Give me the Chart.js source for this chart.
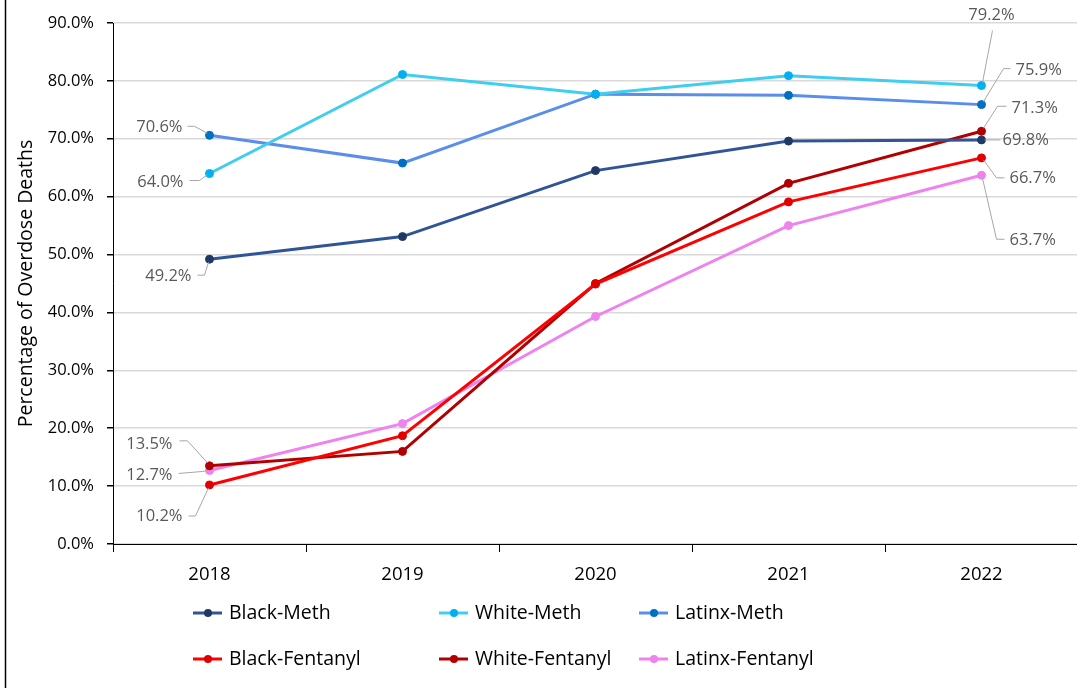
<!DOCTYPE html>
<html>
<head>
<meta charset="utf-8">
<script src="https://cdn.jsdelivr.net/npm/chart.js@4.4.1/dist/chart.umd.min.js"></script>
<style>
  html, body { margin: 0; padding: 0; background: #fff; overflow: hidden; }
  #wrap { position: relative; width: 1077px; height: 688px; overflow: hidden; }
</style>
</head>
<body>
<div id="wrap"><canvas id="chart" width="1083" height="688"></canvas></div>
<script>
// data
const years = ["2018", "2019", "2020", "2021", "2022"];
const blackMeth = [49.2, 53.1, 64.5, 69.6, 69.8];
const whiteMeth = [64.0, 81.1, 77.7, 80.9, 79.2];
const latinxMeth = [70.6, 65.8, 77.7, 77.5, 75.9];
const blackFentanyl = [10.2, 18.7, 44.9, 59.1, 66.7];
const whiteFentanyl = [13.5, 16.0, 45.0, 62.3, 71.3];
const latinxFentanyl = [12.7, 20.8, 39.3, 55.0, 63.7];
const yTicks = [0, 10, 20, 30, 40, 50, 60, 70, 80, 90];

const FONT = "'Open Sans', sans-serif";

// colours: line, marker
const series = [
  { label: "Black-Meth", data: blackMeth, line: "#2F5597", dot: "#203864" },
  { label: "White-Meth", data: whiteMeth, line: "#3FCDF0", dot: "#00B0F0" },
  { label: "Latinx-Meth", data: latinxMeth, line: "#5B8DEB", dot: "#0070C0" },
  { label: "Black-Fentanyl", data: blackFentanyl, line: "#FF0000", dot: "#E00000" },
  { label: "White-Fentanyl", data: whiteFentanyl, line: "#B00000", dot: "#B00000" },
  { label: "Latinx-Fentanyl", data: latinxFentanyl, line: "#EE82EE", dot: "#EE82EE" }
];

// label placement for first / last point: text offset, alignment, leader points (relative to the point)
const labelPlace = {
  "Latinx-Meth": {
    first: { dx: -27, dy: -8, align: "right", path: [[-22, -9], [-15, -9], [-2, -2]] },
    last: { dx: 34, dy: -34, align: "left", path: [[29, -36], [22, -36], [2, -3]] }
  },
  "White-Meth": {
    first: { dx: -26, dy: 9, align: "right", path: [[-20, 7], [-10, 7], [-2, 1]] },
    last: { dx: 10, dy: -70, align: "center", path: [[11, -55], [1, -3]] }
  },
  "Black-Meth": {
    first: { dx: -18, dy: 17, align: "right", path: [[-12, 16], [-5, 16], [-1, 3]] },
    last: { dx: 21, dy: 0, align: "left", path: [[3, 0], [19, 0]] }
  },
  "White-Fentanyl": {
    first: { dx: -37, dy: -22, align: "right", path: [[-30, -25], [-22, -25], [-2, -3]] },
    last: { dx: 30, dy: -23, align: "left", path: [[25, -25], [16, -25], [2, -3]] }
  },
  "Latinx-Fentanyl": {
    first: { dx: -37, dy: 5, align: "right", path: [[-31, 3], [-7, 1], [-2, 0]] },
    last: { dx: 28, dy: 65, align: "left", path: [[1, 3], [15, 64], [23, 64]] }
  },
  "Black-Fentanyl": {
    first: { dx: -27, dy: 31, align: "right", path: [[-21, 31], [-14, 31], [-1, 3]] },
    last: { dx: 28, dy: 20, align: "left", path: [[2, 2], [15, 20], [23, 20]] }
  }
};

// end-point labels with leader lines
const pointLabels = {
  id: "pointLabels",
  afterDatasetsDraw(chart) {
    const ctx = chart.ctx;
    ctx.save();
    ctx.font = "16.5px " + FONT;
    ctx.textBaseline = "middle";
    chart.data.datasets.forEach((ds, i) => {
      const meta = chart.getDatasetMeta(i);
      const place = labelPlace[ds.label];
      if (!place) return;
      [["first", 0], ["last", ds.data.length - 1]].forEach(([key, idx]) => {
        const p = place[key];
        const pt = meta.data[idx];
        ctx.strokeStyle = "#A6A6A6";
        ctx.lineWidth = 1;
        ctx.beginPath();
        p.path.forEach(([x, y], k) => {
          if (k === 0) ctx.moveTo(pt.x + x, pt.y + y);
          else ctx.lineTo(pt.x + x, pt.y + y);
        });
        ctx.stroke();
        ctx.fillStyle = "#595959";
        ctx.textAlign = p.align;
        ctx.fillText(ds.data[idx].toFixed(1) + "%", pt.x + p.dx, pt.y + p.dy);
      });
    });
    ctx.restore();
  }
};

// two-row legend + left frame line
const legendGrid = {
  id: "legendGrid",
  afterDraw(chart) {
    const ctx = chart.ctx;
    const cols = [193, 439, 639];
    const rows = [613, 659];
    ctx.save();
    ctx.font = "19.5px " + FONT;
    ctx.textBaseline = "middle";
    ctx.textAlign = "left";
    chart.data.datasets.forEach((ds, i) => {
      const x = cols[i % 3], y = rows[Math.floor(i / 3)];
      ctx.strokeStyle = ds.borderColor;
      ctx.lineWidth = 3;
      ctx.beginPath();
      ctx.moveTo(x, y);
      ctx.lineTo(x + 29, y);
      ctx.stroke();
      ctx.fillStyle = ds.pointBackgroundColor;
      ctx.beginPath();
      ctx.arc(x + 15, y, 4, 0, Math.PI * 2);
      ctx.fill();
      ctx.fillStyle = "#000";
      ctx.fillText(ds.label, x + 36, y);
    });
    ctx.strokeStyle = "#000";
    ctx.lineWidth = 1.5;
    ctx.beginPath();
    ctx.moveTo(5.5, 0);
    ctx.lineTo(5.5, 688);
    ctx.stroke();
    ctx.restore();
  }
};

new Chart(document.getElementById("chart"), {
  type: "line",
  data: {
    labels: years,
    datasets: series.map(s => ({
      label: s.label,
      data: s.data,
      borderColor: s.line,
      backgroundColor: s.line,
      pointBackgroundColor: s.dot,
      pointBorderColor: s.dot,
      borderWidth: 3,
      pointRadius: 4,
      pointBorderWidth: 1,
      tension: 0
    }))
  },
  options: {
    responsive: false,
    animation: false,
    events: [],
    layout: { padding: { left: 15, top: 23, right: 0, bottom: 0 } },
    plugins: { legend: { display: false }, tooltip: { enabled: false } },
    scales: {
      x: {
        offset: true,
        afterFit: s => { s.height = 144; },
        grid: { offset: true, drawOnChartArea: false, tickLength: 8, tickColor: "#000", color: "#000" },
        border: { color: "#000", width: 1 },
        ticks: { color: "#000", padding: 12, font: { family: FONT, size: 18.5 } }
      },
      y: {
        min: 0,
        max: 90,
        afterFit: s => { s.width = 98; },
        afterBuildTicks: s => { s.ticks = yTicks.map(v => ({ value: v })); },
        grid: { color: "#D9D9D9", lineWidth: 1.5, tickLength: 6, tickColor: "#000" },
        border: { color: "#000", width: 1 },
        ticks: {
          color: "#000",
          padding: 13,
          font: { family: FONT, size: 16.5 },
          callback: v => v.toFixed(1) + "%"
        },
        title: {
          display: true,
          text: "Percentage of Overdose Deaths",
          color: "#000",
          font: { family: FONT, size: 19.5 },
          padding: { top: 0, bottom: 0 }
        }
      }
    }
  },
  plugins: [pointLabels, legendGrid]
});
</script>
</body>
</html>
